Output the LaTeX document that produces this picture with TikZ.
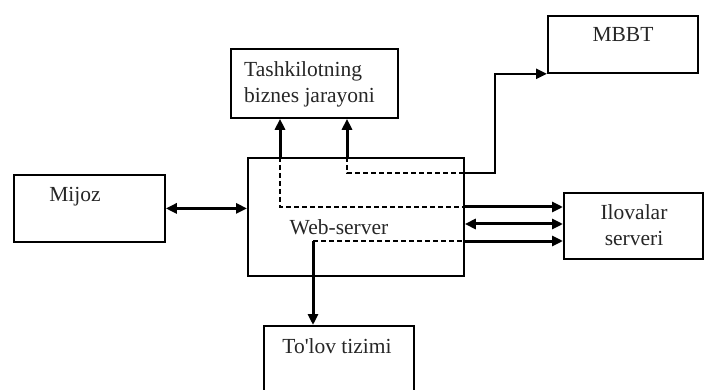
\documentclass[tikz,border=0pt]{standalone}
\usepackage{fontspec}
\setmainfont{Liberation Serif}
\usetikzlibrary{arrows.meta,calc}
\begin{document}
\begin{tikzpicture}[x=1pt,y=-1pt,
  box/.style={draw,line width=1.8pt,inner sep=0pt,anchor=north west},
  lbl/.style={font=\fontsize{21.5}{26}\selectfont,text=black!85,inner sep=0pt},
  flow/.style={line width=3pt},
  innerflow/.style={line width=2.8pt,dash pattern=on 5pt off 3pt},
  arrowed/.style={-{Triangle[length=11pt,width=10pt]}},
  twoway/.style={{Triangle[length=11pt,width=10pt]}-{Triangle[length=11pt,width=10pt]}}]
\clip (0,0) rectangle (704,390);

% boxes
\node[box,minimum width=151pt,minimum height=67pt] (mijoz) at (13,174) {};
\node[box,minimum width=216pt,minimum height=118pt] (web) at (247,157) {};
\node[box,minimum width=167pt,minimum height=69pt] (tash) at (230,48) {};
\node[box,minimum width=150pt,minimum height=57pt] (mbbt) at (547,15) {};
\node[box,minimum width=139pt,minimum height=66pt] (ilov) at (563,192) {};
\node[box,minimum width=150pt,minimum height=90pt] (tolov) at (263,325) {};

% labels (two-line labels are placed by the baseline of their last line)
\node[lbl,anchor=base] (tmijoz) at (75,202) {Mijoz};
\node[lbl,anchor=base west,align=left] (ttash) at (244,103) {Tashkilotning\\biznes jarayoni};
\node[lbl,anchor=base] (tmbbt) at (623,42) {MBBT};
\node[lbl,anchor=base,align=center] (tilov) at (634,245) {Ilovalar\\serveri};
\node[lbl,anchor=base] (tweb) at (339,235) {Web-server};
\node[lbl,anchor=base] (ttolov) at (337,353) {To\textquotesingle lov tizimi};

% bend points inside the web-server
\coordinate (a) at (280,207);
\coordinate (b) at (347,173);
\coordinate (c) at (313,241);
\coordinate (m) at (495,173);
\coordinate (mid) at (0,224);

% business process <-> application server
\draw[innerflow] (a |- web.north) -- (a) -- (a -| web.east);
\draw[flow,arrowed] (a |- web.north) -- (a |- tash.south);
\draw[flow,arrowed] (a -| web.east) -- (a -| ilov.west);

% business process <-> MBBT
\draw[innerflow] (b |- web.north) -- (b) -- (b -| web.east);
\draw[flow,arrowed] (b |- web.north) -- (b |- tash.south);
\draw[flow,arrowed,line width=2.4pt] (b -| web.east) -- (m) |- (mbbt.south west);

% payment system <-> application server
\draw[innerflow] (c) -- (c -| web.east);
\draw[flow,arrowed] (c -| web.east) -- (c -| ilov.west);
\draw[flow,arrowed] (c) -- (c |- tolov.north);

% direct links
\draw[flow,twoway] (web.east |- mid) -- (ilov.west |- mid);
\draw[flow,twoway] (mijoz.east) -- (mijoz.east -| web.west);
\end{tikzpicture}
\end{document}
